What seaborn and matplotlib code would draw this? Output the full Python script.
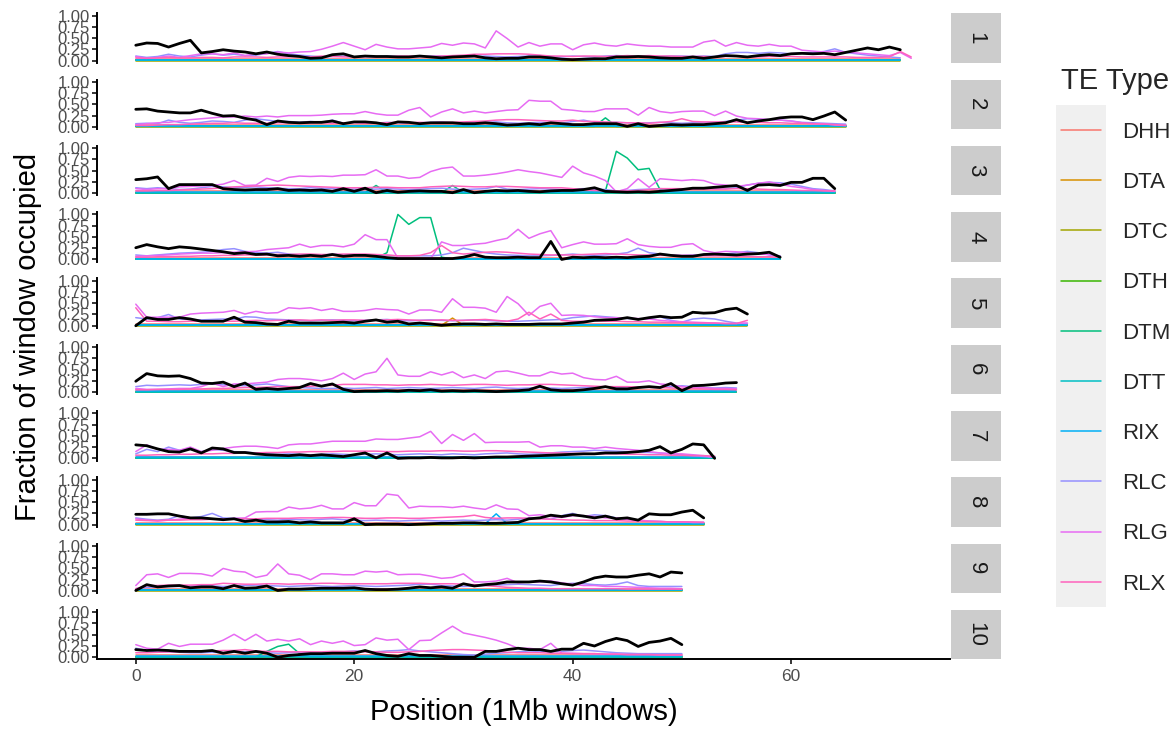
import matplotlib
matplotlib.use("Agg")
import matplotlib.pyplot as plt
from matplotlib.lines import Line2D
from matplotlib.patches import Rectangle
import pandas as pd
import seaborn as sns

# ---------------- data (percent of 1 Mb window occupied) ----------------
CHROMOSOMES = ["1", "2", "3", "4", "5", "6", "7", "8", "9", "10"]
TE_TYPES = ["DHH", "DTA", "DTC", "DTH", "DTM", "DTT", "RIX", "RLC", "RLG", "RLX"]
TE_COLORS = ["#F8766D", "#D89000", "#A3A500", "#39B600", "#00BF7D",
             "#00BFC4", "#00B0F6", "#9590FF", "#E76BF3", "#FF62BC"]
X_TICKS = [0, 20, 40, 60]
Y_TICKS = [0.0, 0.25, 0.5, 0.75, 1.0]
Y_TICK_LABELS = ["0.00", "0.25", "0.50", "0.75", "1.00"]

# black line (non-TE / gene fraction)
GENE = [
    [34,39,38,30,38,45,17,20,24,21, 19,15,19,14,11,9,5,6,13,15, 8,10,9,9,8,8,10,8,6,8, 9,10,6,4,5,5,8,8,6,3, 2,3,4,4,8,8,9,8,6,5, 5,8,5,8,11,10,8,11,13,11, 15,16,15,16,13,18,23,28,24,30, 24],
    [39,40,35,33,31,31,37,30,24,25, 19,15,5,13,10,9,10,10,13,7, 11,11,9,5,11,10,7,9,9,9, 7,7,9,7,4,5,7,5,9,7, 5,5,7,7,7,1,7,1,3,5, 4,5,5,7,9,16,9,13,16,20, 22,22,16,24,33,15],
    [30,32,36,10,19,19,19,19,10,8, 7,8,8,10,6,7,6,7,4,10, 4,11,1,6,2,4,5,4,4,1, 8,1,4,6,5,6,4,3,5,6, 6,8,12,4,3,2,3,2,4,6, 8,11,11,13,15,17,6,18,19,17, 24,24,33,33,10],
    [26,33,28,24,28,26,23,20,17,13, 15,11,12,8,9,7,9,7,11,7, 9,9,7,4,2,2,2,2,2,2, 5,11,5,4,4,5,4,4,40,0, 5,4,5,4,5,4,6,7,12,9, 7,7,11,12,11,10,12,13,16,5],
    [0,18,14,14,18,15,10,10,10,19, 8,7,4,3,10,6,6,6,7,8, 6,10,13,8,10,4,6,4,1,3, 4,4,3,4,3,3,3,4,4,4, 6,8,12,13,14,18,14,18,21,18, 19,30,28,29,36,39,26],
    [24,41,36,35,36,30,20,19,22,12, 20,6,8,6,8,10,19,13,18,6, 1,2,2,3,2,4,3,5,2,3, 2,3,2,1,2,3,5,13,5,3, 3,5,8,12,7,7,10,12,10,19, 3,14,15,17,20,21],
    [30,28,21,15,14,21,12,23,21,13, 13,10,8,7,6,8,6,8,6,4, 8,12,1,12,0,1,1,2,1,1, 2,1,2,3,3,4,5,6,7,8, 9,10,10,12,12,13,15,18,26,12, 20,32,30,0],
    [23,23,24,24,19,15,15,13,11,13, 7,10,6,6,7,4,6,4,4,4, 13,0,1,1,1,0,1,2,3,3, 4,4,3,3,4,5,13,15,21,18, 22,19,15,19,13,15,10,24,22,22, 28,32,15],
    [1,14,9,11,12,7,9,9,5,12, 6,7,11,1,4,4,5,6,6,6, 7,4,3,3,4,6,9,7,9,6, 16,11,14,16,20,20,20,22,20,16, 13,20,29,33,31,31,35,38,31,42, 40],
    [17,15,16,15,13,13,13,15,9,13, 9,13,9,0,4,6,8,8,9,9, 9,15,8,4,2,8,4,4,2,0, 0,0,13,13,17,20,17,17,13,18, 18,31,25,35,42,37,24,33,36,42, 28],
]

RLG = [
    [9,5,7,10,7,11,15,15,13,17, 11,15,15,19,17,19,20,25,32,40, 32,24,36,30,26,26,28,30,38,34, 39,37,28,66,49,30,40,32,37,37, 24,35,39,34,32,37,34,32,32,30, 30,30,41,45,32,40,34,32,36,32, 32,23,21,19,21,19,17,15,13,11, 18,5],
    [5,7,9,10,13,16,18,20,22,22, 24,22,24,22,25,25,25,26,28,29, 29,34,29,26,26,37,43,22,33,40, 31,35,31,34,37,38,59,57,57,39, 37,34,34,40,40,40,26,43,34,31, 34,35,35,25,35,24,19,18,16,15, 13,9,7,7,4,3],
    [10,8,10,10,14,15,16,17,20,28, 17,18,33,26,35,38,37,38,37,40, 40,41,52,38,38,33,35,48,55,58, 38,38,40,43,47,52,48,45,40,35, 60,45,38,28,3,10,32,13,32,30, 28,30,28,20,18,15,18,22,25,20, 15,12,8,6,4],
    [7,8,9,10,12,13,14,14,15,16, 17,18,22,24,26,34,27,31,31,28, 34,55,44,44,3,2,2,2,39,31, 31,34,36,42,47,67,47,57,64,26, 33,39,34,34,35,46,33,29,27,27, 33,35,20,15,18,17,15,12,11,7],
    [48,19,19,19,19,26,28,29,30,34, 26,32,28,29,40,38,40,34,38,32, 32,34,38,36,35,26,35,35,30,60, 41,41,39,30,65,49,23,43,50,23, 24,23,20,18,18,17,16,15,12,10, 9,8,7,6,5,5,6],
    [8,6,6,7,8,8,12,20,12,18, 18,20,22,28,30,30,28,25,30,42, 28,40,45,75,38,35,35,45,38,45, 32,38,30,45,47,42,36,36,45,40, 42,32,28,27,35,22,22,25,18,16, 12,10,10,8,8,7],
    [15,30,20,20,18,25,15,18,22,25, 27,27,25,22,30,32,32,35,38,38, 38,38,43,42,42,45,48,60,33,53, 40,55,35,36,36,36,37,25,28,28, 25,25,22,25,22,20,18,15,12,10, 10,8,6,2],
    [13,10,8,10,12,15,13,12,12,14, 15,28,29,29,39,35,37,43,35,35, 49,42,42,68,65,37,41,40,40,38, 41,37,34,44,35,34,20,22,18,16, 20,20,18,15,15,12,10,8,7,6, 6,5,5],
    [12,36,38,30,39,39,38,33,50,44, 42,30,35,60,38,35,25,38,38,36, 36,44,42,44,36,37,37,33,28,30, 38,20,20,22,28,18,20,20,22,18, 15,12,12,10,10,9,8,7,6,6, 5],
    [28,20,18,31,24,29,29,29,38,51, 37,51,36,40,36,41,28,36,31,36, 26,28,43,38,40,17,37,38,54,69, 54,49,44,38,30,20,20,17,31,9, 9,8,8,7,7,6,6,6,5,5, 5],
]

RLC = [
    [10,7,9,14,10,8,12,15,12,14, 11,12,16,20,15,12,10,8,9,10, 8,9,8,10,9,8,9,10,10,9, 8,9,10,9,8,9,10,11,9,8, 10,9,8,10,11,10,9,8,9,10, 10,9,10,9,15,18,18,16,18,17, 15,17,18,20,26,18,15,12,10,8, 6],
    [7,8,7,15,10,8,10,13,12,10, 15,18,15,12,12,10,12,10,15,8, 10,9,8,10,9,8,9,10,11,9, 8,9,10,11,9,8,9,10,9,8, 12,15,10,9,10,9,8,9,10,9, 8,9,10,9,12,15,18,17,16,15, 13,10,9,8,7,6],
    [12,10,12,10,8,9,12,15,14,12, 13,14,12,11,10,10,12,11,10,9, 9,8,9,10,9,8,9,10,11,9, 8,9,10,15,9,8,9,10,9,8, 9,10,9,8,5,6,8,9,10,9, 8,9,10,9,10,12,18,22,24,23, 20,15,10,8,5],
    [10,8,10,12,14,15,16,18,22,24, 18,15,14,16,12,10,10,9,12,10, 9,8,10,9,8,8,8,8,10,15, 25,20,15,12,10,9,8,8,9,10, 12,10,9,10,12,15,25,15,12,10, 9,10,10,9,12,15,18,15,10,8],
    [18,15,18,25,15,14,13,14,15,14, 20,19,15,14,13,12,11,12,13,12, 11,12,13,14,12,11,12,13,12,11, 12,13,12,11,10,10,11,12,13,14, 18,20,22,20,18,16,15,16,20,12, 8,15,17,15,10,6,5],
    [12,15,14,15,16,15,17,18,16,15, 14,16,18,15,12,10,9,8,8,9, 8,9,10,8,9,10,9,8,9,10, 9,8,10,11,9,8,9,10,9,8, 9,10,11,12,10,9,10,11,10,12, 14,12,10,9,10,9],
    [10,20,15,25,18,20,15,20,18,15, 14,12,10,9,10,9,8,9,10,9, 8,9,10,9,8,9,10,9,8,10, 9,8,10,11,12,10,9,10,12,14, 15,16,18,17,16,15,14,13,12,10, 8,6,4,2],
    [15,12,10,12,20,15,18,25,15,14, 13,12,11,10,12,11,10,12,13,11, 10,9,10,9,8,9,10,9,8,9, 10,9,10,11,10,12,15,14,12,20, 25,18,22,20,15,12,10,8,7,6, 6,5,5],
    [5,8,9,10,10,11,12,11,10,11, 12,13,12,11,10,11,12,11,10,11, 12,11,10,11,12,13,15,15,12,11, 10,11,12,13,14,15,14,13,12,15, 17,16,14,13,15,20,12,10,10,10, 10],
    [20,15,12,12,11,10,10,11,10,11, 12,11,10,9,10,11,10,9,10,12, 14,13,12,14,15,17,14,12,10,8, 6,5,7,9,10,12,14,13,12,13, 15,16,14,12,10,9,8,8,8,8, 8],
]

RLX = [
    [6,5,6,7,6,6,7,7,6,8, 8,8,7,8,8,9,8,10,9,8, 8,9,9,8,10,10,9,9,10,11, 12,14,14,15,15,15,14,12,10,10, 9,10,10,9,10,11,10,11,10,10, 9,9,9,8,9,10,8,8,9,9, 9,8,8,8,8,8,7,7,7,8, 20,8],
    [3,3,4,5,5,6,7,8,8,9, 8,8,8,9,9,8,9,9,8,9, 9,8,9,9,10,9,10,9,10,10, 11,12,13,15,16,16,15,14,13,13, 15,12,12,11,10,9,9,8,10,12, 18,12,11,11,11,11,10,10,9,9, 8,8,7,6,5,3],
    [5,5,6,6,7,8,9,10,12,14, 15,16,17,18,17,16,15,14,13,12, 12,12,13,13,12,12,12,14,15,16, 15,14,14,15,15,14,13,12,12,12, 10,8,6,5,5,5,6,8,10,10, 10,9,9,9,9,10,10,9,8,8, 7,6,6,5,5],
    [5,5,6,6,7,7,8,8,9,9, 10,10,10,11,11,12,12,11,11,12, 12,12,11,10,8,8,9,15,31,15, 12,14,16,17,16,14,12,11,10,10, 10,11,12,13,12,11,10,10,9,9, 9,9,8,8,8,7,7,6,6,5],
    [40,10,10,9,9,10,10,11,10,10, 11,12,11,12,12,13,12,13,12,13, 13,12,12,13,14,13,12,12,13,12, 12,13,14,12,10,15,30,15,26,12, 10,10,11,10,10,9,9,8,8,7, 7,6,6,6,5,5,12],
    [5,5,6,6,6,7,7,8,8,9, 10,10,11,12,12,12,13,14,15,17, 17,17,16,16,15,16,16,17,16,15, 16,17,17,16,15,16,16,17,17,16, 15,14,13,12,12,12,11,10,10,9, 8,8,7,6,6,5],
    [7,7,8,8,9,9,10,10,11,11, 12,12,13,13,14,14,15,15,15,16, 16,16,16,15,15,16,16,16,17,17, 16,16,17,17,16,15,14,13,12,12, 11,11,10,10,10,9,9,8,8,7, 7,6,6,5],
    [10,9,9,10,10,11,11,12,12,12, 13,13,14,14,14,15,15,15,16,16, 15,14,14,15,15,14,14,15,16,17, 18,21,16,14,15,15,14,13,12,11, 10,10,9,9,9,8,8,7,7,6, 6,6,5],
    [5,12,12,13,13,13,14,14,17,16, 15,15,16,16,15,16,16,17,17,16, 16,16,16,16,17,17,17,16,16,16, 15,14,12,10,8,7,6,6,5,5, 5,5,5,5,5,4,4,4,4,4, 4],
    [10,10,11,12,12,12,13,14,15,15, 17,14,13,13,12,12,12,12,13,13, 13,12,12,11,11,12,13,15,16,17, 17,16,15,13,11,10,10,10,9,9, 8,8,8,7,7,6,6,6,5,5, 5],
]

DTM = [
    [1,1,1,1,1,1,1,1,1,1, 1,1,1,1,1,1,1,1,1,1, 1,1,1,1,1,1,1,1,1,1, 1,1,1,1,1,1,1,1,1,1, 1,1,1,1,1,1,1,1,1,1, 1,1,1,1,1,1,1,1,1,1, 1,1,1,1,1,1,1,1,1,1, 1],
    [1,1,1,1,1,1,1,1,1,1, 1,1,1,1,1,1,1,1,1,1, 1,1,1,1,1,1,1,1,1,1, 1,1,1,1,1,1,1,1,1,1, 1,1,1,20,1,1,1,1,1,1, 1,1,1,1,1,1,1,1,1,1, 1,1,1,1,1,1],
    [1,1,1,1,1,1,1,1,1,1, 1,1,1,1,1,1,1,1,1,1, 1,1,17,1,1,1,1,1,1,17, 1,1,1,1,1,1,1,1,1,1, 1,1,1,5,93,78,52,55,8,1, 1,1,1,1,1,1,1,1,1,1, 1,1,1,1,1],
    [1,1,1,1,1,1,1,1,1,1, 1,1,1,1,1,1,1,1,1,1, 1,1,3,15,100,78,93,93,5,1, 1,1,1,1,1,1,1,1,1,1, 1,1,1,1,1,1,1,1,1,1, 1,1,1,1,1,1,1,1,1,1],
    [1,1,1,1,1,1,1,1,1,1, 1,1,1,1,1,1,1,1,1,1, 1,1,1,1,1,1,1,1,1,1, 1,1,1,1,1,1,1,1,1,1, 1,1,1,1,1,1,1,1,1,1, 1,1,1,1,1,1,1],
    [1,1,1,1,1,1,1,1,1,1, 1,1,1,1,1,1,1,1,1,1, 1,1,1,1,1,1,1,1,1,1, 1,1,1,1,1,1,1,1,1,1, 1,1,1,1,1,1,1,1,1,1, 1,1,1,1,1,1],
    [1,1,1,1,1,1,1,1,1,1, 1,1,1,1,1,1,1,1,1,1, 1,1,1,1,1,1,1,1,1,1, 1,1,1,1,1,1,1,1,1,1, 1,1,1,1,1,1,1,1,1,1, 1,1,1,1],
    [1,1,1,1,1,1,1,1,1,1, 1,1,1,1,1,1,1,1,1,1, 1,1,1,1,1,1,1,1,1,1, 1,1,1,1,1,1,1,1,1,1, 1,1,1,1,1,1,1,1,1,1, 1,1,1],
    [1,1,1,1,1,1,1,1,1,1, 1,1,1,1,1,1,1,1,1,1, 1,1,1,1,1,1,1,1,1,1, 1,1,1,1,1,1,1,1,1,1, 1,1,1,1,1,1,1,1,1,1, 1],
    [1,1,1,1,1,1,1,1,1,1, 1,1,13,24,29,8,1,1,1,1, 1,1,1,1,1,1,1,1,1,1, 1,1,1,1,1,1,1,1,1,1, 1,1,1,1,1,1,1,1,1,1, 1],
]

DHH = [
    [4,4,4,4,4,4,4,4,4,4, 4,4,4,4,4,4,4,4,4,4, 4,4,4,4,4,4,4,4,4,4, 4,4,4,4,4,4,4,4,4,4, 4,4,4,4,4,4,4,4,4,4, 4,4,4,4,4,4,4,4,4,4, 4,4,4,4,4,4,4,4,4,4, 4],
    [4,4,4,4,4,4,4,4,4,4, 4,4,4,4,4,4,4,4,4,4, 4,4,4,4,4,4,4,4,4,4, 4,4,4,4,4,4,4,4,4,4, 4,4,4,4,4,4,4,4,4,4, 4,4,4,4,4,4,4,4,4,4, 4,4,4,4,4,4],
    [4,4,4,4,4,4,4,4,4,4, 4,4,4,4,4,4,4,4,4,4, 4,4,4,4,4,4,4,4,4,4, 4,4,4,4,4,4,4,4,4,4, 4,4,4,4,4,4,4,4,4,4, 4,4,4,4,4,4,4,4,4,4, 4,4,4,4,4],
    [4,4,4,4,4,4,4,4,4,4, 4,4,4,4,4,4,4,4,4,4, 4,4,4,4,4,4,4,4,4,4, 4,4,4,4,4,4,4,4,4,4, 4,4,4,4,4,4,4,4,4,4, 4,4,4,4,4,4,4,4,4,4],
    [4,4,4,4,4,4,4,4,4,4, 4,4,4,4,4,4,4,4,4,4, 4,4,4,4,4,4,4,4,4,4, 4,4,4,4,4,4,4,4,4,4, 4,4,4,4,4,4,4,4,4,4, 4,4,4,4,4,4,4],
    [4,4,4,4,4,4,4,4,4,4, 4,4,4,4,4,4,4,4,4,4, 4,4,4,4,4,4,4,4,4,4, 4,4,4,4,4,4,4,4,4,4, 4,4,4,4,4,4,4,4,4,4, 4,4,4,4,4,4],
    [4,4,4,4,4,4,4,4,4,4, 4,4,4,4,4,4,4,4,4,4, 4,4,4,4,4,4,4,4,4,4, 4,4,4,4,4,4,4,4,4,4, 4,4,4,4,4,4,4,4,4,4, 4,4,4,4],
    [4,4,4,4,4,4,4,4,4,4, 4,4,4,4,4,4,4,4,4,4, 4,4,4,4,4,4,4,4,4,4, 4,4,4,4,4,4,4,4,4,4, 4,4,4,4,4,4,4,4,4,4, 4,4,4],
    [4,4,4,4,4,4,4,4,4,4, 4,4,4,4,4,4,4,4,4,4, 4,4,4,4,4,4,4,4,4,4, 4,4,4,4,4,4,4,4,4,4, 4,4,4,4,4,4,4,4,4,4, 4],
    [4,4,4,4,4,4,4,4,4,4, 4,4,4,4,4,4,4,4,4,4, 4,4,4,4,4,4,4,4,4,4, 4,4,4,4,4,4,4,4,4,4, 4,4,4,4,4,4,4,4,4,4, 4],
]

DTA = [
    [1,1,1,1,1,1,1,1,1,1, 1,1,1,1,1,1,1,1,1,1, 1,1,1,1,1,1,1,1,1,1, 1,1,1,1,1,1,1,1,1,1, 1,1,1,1,1,1,1,1,1,1, 1,1,1,1,1,1,1,1,1,1, 1,1,1,1,1,1,1,1,1,1, 1],
    [1,1,1,1,1,1,1,1,1,1, 1,1,1,1,1,1,1,1,1,1, 1,1,1,1,1,1,1,1,1,1, 1,1,1,1,1,1,1,1,1,1, 1,1,1,1,1,1,1,1,1,1, 1,1,1,1,1,1,1,1,1,1, 1,1,1,1,1,1],
    [1,1,1,1,1,1,1,1,1,1, 1,1,1,1,1,1,1,1,1,1, 1,1,1,1,1,1,1,1,1,1, 1,1,1,1,1,1,1,1,1,1, 1,1,1,1,1,1,1,1,1,1, 1,1,1,1,1,1,1,1,1,1, 1,1,1,1,1],
    [1,1,1,1,1,1,1,1,1,1, 1,1,1,1,1,1,1,1,1,1, 1,1,1,1,1,1,1,1,1,1, 1,1,1,1,1,1,1,1,1,1, 1,1,1,1,1,1,1,1,1,1, 1,1,1,1,1,1,1,1,1,1],
    [1,1,1,1,1,1,1,1,1,1, 1,1,1,1,1,1,1,1,1,1, 1,1,1,1,1,1,1,1,1,17, 1,1,1,1,1,1,1,1,1,1, 1,1,1,1,1,1,1,1,1,1, 1,1,1,1,1,1,1],
    [1,1,1,1,1,1,1,1,1,1, 1,1,1,1,1,1,1,1,1,1, 1,1,1,1,1,1,1,1,1,1, 1,1,1,1,1,1,1,1,1,1, 1,1,1,1,1,1,1,1,1,1, 1,1,1,1,1,1],
    [1,1,1,1,1,1,1,1,1,1, 1,1,1,1,1,1,1,1,1,1, 1,1,1,1,1,1,1,1,1,1, 1,1,1,1,1,1,1,1,1,1, 1,1,1,1,1,1,1,1,1,1, 1,1,1,1],
    [1,1,1,1,1,1,1,1,1,1, 1,1,1,1,1,1,1,1,1,1, 12,1,1,1,1,1,1,1,1,1, 1,1,1,1,1,1,1,1,1,1, 1,1,1,1,1,1,1,1,1,1, 1,1,1],
    [1,1,1,1,1,1,1,1,1,1, 1,1,1,1,1,1,1,1,1,1, 1,1,1,1,1,1,1,1,1,1, 1,1,1,1,1,1,1,1,1,1, 1,1,1,1,1,1,1,1,1,1, 1],
    [1,1,1,1,1,1,1,1,1,1, 1,1,1,1,1,1,1,1,1,1, 1,1,1,1,1,1,1,1,1,1, 1,1,1,1,1,1,1,1,1,1, 1,1,1,1,1,1,1,1,1,1, 1],
]

DTC = [
    [0,0,0,0,0,0,0,0,0,0, 0,0,0,0,0,0,0,0,0,0, 0,0,0,0,0,0,0,0,0,0, 0,0,0,0,0,0,0,0,0,0, 0,0,0,0,0,0,0,0,0,0, 0,0,0,0,0,0,0,0,0,0, 0,0,0,0,0,0,0,0,0,0, 0],
    [0,0,0,0,0,0,0,0,0,0, 0,0,0,0,0,0,0,0,0,0, 0,0,0,0,0,0,0,0,0,0, 0,0,0,0,0,0,0,0,0,0, 0,0,0,0,0,0,0,0,0,0, 0,0,0,0,0,0,0,0,0,0, 0,0,0,0,0,0],
    [0,0,0,0,0,0,0,0,0,0, 0,0,0,0,0,0,0,0,0,0, 0,0,0,0,0,0,0,0,0,0, 0,0,0,0,0,0,0,0,0,0, 0,0,0,0,0,0,0,0,0,0, 0,0,0,0,0,0,0,0,0,0, 0,0,0,0,0],
    [0,0,0,0,0,0,0,0,0,0, 0,0,0,0,0,0,0,0,0,0, 0,0,0,0,0,0,0,0,0,0, 0,0,0,0,0,0,0,0,0,0, 0,0,0,0,0,0,0,0,0,0, 0,0,0,0,0,0,0,0,0,0],
    [0,0,0,0,0,0,0,0,0,0, 0,0,0,0,0,0,0,0,0,0, 0,0,0,0,0,0,0,0,0,0, 0,0,0,0,0,0,0,0,0,0, 0,0,0,0,0,0,0,0,0,0, 0,0,0,0,0,0,0],
    [0,0,0,0,0,0,0,0,0,0, 0,0,0,0,0,0,0,0,0,0, 0,0,0,0,0,0,0,0,0,0, 0,0,0,0,0,0,0,0,0,0, 0,0,0,0,0,0,0,0,0,0, 0,0,0,0,0,0],
    [0,0,0,0,0,0,0,0,0,0, 0,0,0,0,0,0,0,0,0,0, 0,0,0,0,0,0,0,0,0,0, 0,0,0,0,0,0,0,0,0,0, 0,0,0,0,0,0,0,0,0,0, 0,0,0,0],
    [0,0,0,0,0,0,0,0,0,0, 0,0,0,0,0,0,0,0,0,0, 0,0,0,0,0,0,0,0,0,0, 0,0,0,0,0,0,0,0,0,0, 0,0,0,0,0,0,0,0,0,0, 0,0,0],
    [0,0,0,0,0,0,0,0,0,0, 0,0,0,0,0,0,0,0,0,0, 0,0,0,0,0,0,0,0,0,0, 0,0,0,0,0,0,0,0,0,0, 0,0,0,0,0,0,0,0,0,0, 0],
    [0,0,0,0,0,0,0,0,0,0, 0,0,0,0,0,0,0,0,0,0, 0,0,0,0,0,0,0,0,0,0, 0,0,0,0,0,0,0,0,0,0, 0,0,0,0,0,0,0,0,0,0, 0],
]

DTH = [
    [1,1,1,1,1,1,1,1,1,1, 1,1,1,1,1,1,1,1,1,1, 1,1,1,1,1,1,1,1,1,1, 1,1,1,1,1,1,1,1,1,1, 1,1,1,1,1,1,1,1,1,1, 1,1,1,1,1,1,1,1,1,1, 1,1,1,1,1,1,1,1,1,1, 1],
    [1,1,1,1,1,1,1,1,1,1, 1,1,1,1,1,1,1,1,1,1, 1,1,1,1,1,1,1,1,1,1, 1,1,1,1,1,1,1,1,1,1, 1,1,1,1,1,1,1,1,1,1, 1,1,1,1,1,1,1,1,1,1, 1,1,1,1,1,1],
    [1,1,1,1,1,1,1,1,1,1, 1,1,1,1,1,1,1,1,1,1, 1,1,1,1,1,1,1,1,1,1, 1,1,1,1,1,1,1,1,1,1, 1,1,1,1,1,1,1,1,1,1, 1,1,1,1,1,1,1,1,1,1, 1,1,1,1,1],
    [1,1,1,1,1,1,1,1,1,1, 1,1,1,1,1,1,1,1,1,1, 1,1,1,1,1,1,1,1,1,1, 1,1,1,1,1,1,1,1,1,1, 1,1,1,1,1,1,1,1,1,1, 1,1,1,1,1,1,1,1,1,1],
    [1,1,1,1,1,1,1,1,1,1, 1,1,1,1,1,1,1,1,1,1, 1,1,1,1,1,1,1,1,1,1, 1,1,1,1,1,1,1,1,1,1, 1,1,1,1,1,1,1,1,1,1, 1,1,1,1,1,1,1],
    [1,1,1,1,1,1,1,1,1,1, 1,1,1,1,1,1,1,1,1,1, 1,1,1,1,1,1,1,1,1,1, 1,1,1,1,1,1,1,1,1,1, 1,1,1,1,1,1,1,1,1,1, 1,1,1,1,1,1],
    [1,1,1,1,1,1,1,1,1,1, 1,1,1,1,1,1,1,1,1,1, 1,1,1,1,1,1,1,1,1,1, 1,1,1,1,1,1,1,1,1,1, 1,1,1,1,1,1,1,1,1,1, 1,1,1,1],
    [1,1,1,1,1,1,1,1,1,1, 1,1,1,1,1,1,1,1,1,1, 1,1,1,1,1,1,1,1,1,1, 1,1,1,1,1,1,1,1,1,1, 1,1,1,1,1,1,1,1,1,1, 1,1,1],
    [1,1,1,1,1,1,1,1,1,1, 1,1,1,1,1,1,1,1,1,1, 1,1,1,1,1,1,1,1,1,1, 1,1,1,1,1,1,1,1,1,1, 1,1,1,1,1,1,1,1,1,1, 1],
    [1,1,1,1,1,1,1,1,1,1, 1,1,1,1,1,1,1,1,1,1, 1,1,1,1,1,1,1,1,1,1, 1,1,1,1,1,1,1,1,1,1, 1,1,1,1,1,1,1,1,1,1, 1],
]

DTT = [
    [1,1,1,1,1,1,1,1,1,1, 1,1,1,1,1,1,1,1,1,1, 1,1,1,1,1,1,1,1,1,1, 1,1,1,1,1,1,1,1,1,1, 1,1,1,1,1,1,1,1,1,1, 1,1,1,1,1,1,1,1,1,1, 1,1,1,1,1,1,1,1,1,1, 1],
    [1,1,1,1,1,1,1,1,1,1, 1,1,1,1,1,1,1,1,1,1, 1,1,1,1,1,1,1,1,1,1, 1,1,1,1,1,1,1,1,1,1, 1,1,1,1,1,1,1,1,1,1, 1,1,1,1,1,1,1,1,1,1, 1,1,1,1,1,1],
    [1,1,1,1,1,1,1,1,1,1, 1,1,1,1,1,1,1,1,1,1, 1,1,1,1,1,1,1,1,1,1, 1,1,1,1,1,1,1,1,1,1, 1,1,1,1,1,1,1,1,1,1, 1,1,1,1,1,1,1,1,1,1, 1,1,1,1,1],
    [1,1,1,1,1,1,1,1,1,1, 1,1,1,1,1,1,1,1,1,1, 1,1,1,1,1,1,1,1,1,1, 1,1,1,1,1,1,1,1,1,1, 1,1,1,1,1,1,1,1,1,1, 1,1,1,1,1,1,1,1,1,1],
    [1,1,1,1,1,1,1,1,1,1, 1,1,1,1,1,1,1,1,1,1, 1,1,1,1,1,1,1,1,1,1, 1,1,1,1,1,1,1,1,1,1, 1,1,1,1,1,1,1,1,1,1, 1,1,1,1,1,1,1],
    [1,1,1,1,1,1,1,1,1,1, 1,1,1,1,1,1,1,1,1,1, 1,1,1,1,1,1,1,1,1,1, 1,1,1,1,1,1,1,1,1,1, 1,1,1,1,1,1,1,1,1,1, 1,1,1,1,1,1],
    [1,1,1,1,1,1,1,1,1,1, 1,1,1,1,1,1,1,1,1,1, 1,1,1,1,1,1,1,1,1,1, 1,1,1,1,1,1,1,1,1,1, 1,1,1,1,1,1,1,1,1,1, 1,1,1,1],
    [1,1,1,1,1,1,1,1,1,1, 1,1,1,1,1,1,1,1,1,1, 1,1,1,1,1,1,1,1,1,1, 1,1,1,1,1,1,1,1,1,1, 1,1,1,1,1,1,1,1,1,1, 1,1,1],
    [1,1,1,1,1,1,1,1,1,1, 1,1,1,1,1,1,1,1,1,1, 1,1,1,1,1,1,1,1,1,1, 1,1,1,1,1,1,1,1,1,1, 1,1,1,1,1,1,1,1,1,1, 1],
    [1,1,1,1,1,1,1,1,1,1, 1,1,1,1,1,1,1,1,1,1, 1,1,1,1,1,1,1,1,1,1, 1,1,1,1,1,1,1,1,1,1, 1,1,1,1,1,1,1,1,1,1, 1],
]

RIX = [
    [2,2,2,2,2,2,2,2,2,2, 2,2,2,2,2,2,2,2,2,2, 2,2,2,2,2,2,2,2,2,2, 2,2,2,2,2,2,2,2,2,2, 2,2,2,2,2,2,2,2,2,2, 2,2,2,2,2,2,2,2,2,2, 2,2,2,2,2,2,2,2,2,2, 2],
    [2,2,2,2,2,2,2,2,2,2, 2,2,2,2,2,2,2,2,2,2, 2,2,2,2,2,2,2,2,2,2, 2,2,2,2,2,2,2,2,2,2, 2,2,2,2,2,2,2,2,2,2, 2,2,2,2,2,2,2,2,2,2, 2,2,2,2,2,2],
    [2,2,2,2,2,2,2,2,2,2, 2,2,2,2,2,2,2,2,2,2, 2,2,2,2,2,2,2,2,2,2, 2,2,2,2,2,2,2,2,2,2, 2,2,2,2,2,2,2,2,2,2, 2,2,2,2,2,2,2,2,2,2, 2,2,2,2,2],
    [2,2,2,2,2,2,2,2,2,2, 2,2,2,2,2,2,2,2,2,2, 2,2,2,2,2,2,2,2,2,2, 2,2,2,2,2,2,2,2,2,2, 2,2,2,2,2,2,2,2,2,2, 2,2,2,2,2,2,2,2,2,2],
    [2,2,2,2,2,2,2,2,2,2, 2,2,2,2,2,2,2,2,2,2, 2,2,2,2,2,2,2,2,2,2, 2,2,2,2,2,2,2,2,2,2, 2,2,2,2,2,2,2,2,2,2, 2,2,2,2,2,2,2],
    [2,2,2,2,2,2,2,2,2,2, 2,2,2,2,2,2,2,2,2,2, 2,2,2,2,2,2,2,2,2,2, 2,2,2,2,2,2,2,2,2,2, 2,2,2,2,2,2,2,2,2,2, 2,2,2,2,2,2],
    [2,2,2,2,2,2,2,2,2,2, 2,2,2,2,2,2,2,2,2,2, 2,2,2,2,2,2,2,2,2,2, 2,2,2,2,2,2,2,2,2,2, 2,2,2,2,2,2,2,2,2,2, 2,2,2,2],
    [2,2,2,2,2,2,2,2,2,2, 2,2,2,2,2,2,2,2,2,2, 2,2,2,2,2,2,2,2,2,2, 2,2,2,24,2,2,2,2,2,2, 2,2,2,2,2,2,2,2,2,2, 2,2,2],
    [2,2,2,2,2,2,2,2,2,2, 2,2,2,2,2,2,2,2,2,2, 2,2,2,2,2,2,2,2,2,2, 2,2,2,2,2,2,2,2,2,2, 2,2,2,2,2,2,2,2,2,2, 2],
    [2,2,2,2,2,2,2,2,2,2, 2,2,2,2,2,2,2,2,2,2, 2,2,2,2,2,2,2,2,2,2, 2,2,2,2,2,2,2,2,2,2, 2,2,2,2,2,2,2,2,2,2, 2],
]

SERIES = {"DHH": DHH, "DTA": DTA, "DTC": DTC, "DTH": DTH, "DTM": DTM,
          "DTT": DTT, "RIX": RIX, "RLC": RLC, "RLG": RLG, "RLX": RLX}

# ---------------- long tables ----------------
rows = []
for te in TE_TYPES:
    for ci, vals in enumerate(SERIES[te]):
        for pos, v in enumerate(vals):
            rows.append((CHROMOSOMES[ci], te, pos, v / 100.0))
df = pd.DataFrame(rows, columns=["chrom", "te", "pos", "frac"])

grows = []
for ci, vals in enumerate(GENE):
    for pos, v in enumerate(vals):
        grows.append((CHROMOSOMES[ci], pos, v / 100.0))
gdf = pd.DataFrame(grows, columns=["chrom", "pos", "frac"])

# ---------------- figure ----------------
sns.set_theme(style="white")
plt.rcParams["font.family"] = ["Liberation Sans", "DejaVu Sans"]

W, H = 1176, 730
fig = plt.figure(figsize=(W / 100, H / 100), dpi=100)
fig.patch.set_facecolor("white")

PX_LEFT, PX_RIGHT = 97, 950
TOP0, STEP, PH = 13.3, 66.3, 49.5
STRIP_W = 50

for i, chrom in enumerate(CHROMOSOMES):
    top = TOP0 + STEP * i
    ax = fig.add_axes([PX_LEFT / W, 1 - (top + PH) / H, (PX_RIGHT - PX_LEFT) / W, PH / H])
    ax.set_facecolor("white")
    sub = df[df["chrom"] == chrom]
    sns.lineplot(data=sub, x="pos", y="frac", hue="te", hue_order=TE_TYPES,
                 palette=TE_COLORS, linewidth=1.1, estimator=None, legend=False, ax=ax)
    gsub = gdf[gdf["chrom"] == chrom]
    sns.lineplot(data=gsub, x="pos", y="frac", color="black", linewidth=2.0,
                 estimator=None, legend=False, ax=ax)
    ax.set_xlim(-3.55, 74.55)
    ax.set_ylim(-0.05, 1.05)
    ax.set_xlabel("")
    ax.set_ylabel("")
    ax.grid(False)
    for s in ["top", "right"]:
        ax.spines[s].set_visible(False)
    ax.spines["left"].set_color("black")
    ax.spines["left"].set_linewidth(1.4)
    ax.set_yticks(Y_TICKS)
    ax.set_yticklabels(Y_TICK_LABELS)
    ax.tick_params(axis="y", left=True, length=3.5, width=1.1, color="black",
                   labelsize=12, labelcolor="#4D4D4D", pad=1.5)
    if i < len(CHROMOSOMES) - 1:
        ax.spines["bottom"].set_visible(False)
        ax.tick_params(axis="x", bottom=False, labelbottom=False)
    else:
        ax.spines["bottom"].set_color("black")
        ax.spines["bottom"].set_linewidth(1.4)
        ax.set_xticks(X_TICKS)
        ax.set_xticklabels([str(t) for t in X_TICKS])
        ax.tick_params(axis="x", bottom=True, length=3.5, width=1.1, color="black",
                       labelsize=12.5, labelcolor="#4D4D4D", pad=3)
    # facet strip on the right
    fig.patches.append(Rectangle(((PX_RIGHT + 1) / W, 1 - (top + PH) / H), STRIP_W / W, PH / H,
                                 transform=fig.transFigure, facecolor="#CCCCCC",
                                 edgecolor="none", zorder=1))
    fig.text((PX_RIGHT + 1 + STRIP_W / 2) / W, 1 - (top + PH / 2) / H, chrom,
             rotation=-90, ha="center", va="center", fontsize=16, color="#1A1A1A")

fig.text(28 / W, 1 - 336.5 / H, "Fraction of window occupied", rotation=90,
         ha="center", va="center", fontsize=21, color="black")
fig.text((PX_LEFT + PX_RIGHT) / 2 / W, 1 - 712 / H, "Position (1Mb windows)",
         ha="center", va="center", fontsize=21, color="black")

# ---------------- legend (measured & adjusted to reference geometry) ----------------
handles = [Line2D([0], [0], color=c, linewidth=1.1) for c in TE_COLORS]
LEG_FS = 16
FS_PX = LEG_FS * 100 / 72.0
T_LINE_X0, T_GAP, T_PITCH, T_FIRST_Y, T_TITLE_Y = 1061, 21, 50.2, 130, 80


def make_legend(hp, ls, anchor):
    return fig.legend(handles, TE_TYPES, title="TE Type", loc="upper left",
                      bbox_to_anchor=anchor, frameon=False,
                      fontsize=LEG_FS, title_fontsize=21, handlelength=1.8,
                      handletextpad=hp, labelspacing=ls, borderpad=0,
                      borderaxespad=0, alignment="left")


def measure(lg):
    rr = fig.canvas.get_renderer()
    hs = [h.get_window_extent(rr) for h in lg.legend_handles]
    ts = [t.get_window_extent(rr) for t in lg.get_texts()]
    tt = lg.get_title().get_window_extent(rr)
    return hs, ts, tt


anchor = (1058 / W, 1 - 64 / H)
hp, ls = 0.95, 1.3
leg = make_legend(hp, ls, anchor)
fig.canvas.draw()
hs, ts, tt = measure(leg)
gap = ts[0].x0 - hs[0].x1
pitch = (((hs[0].y0 + hs[0].y1) - (hs[-1].y0 + hs[-1].y1)) / 2) / 9
hp += (T_GAP - gap) / FS_PX
ls += (T_PITCH - pitch) / FS_PX
leg.remove()
leg = make_legend(hp, ls, anchor)
fig.canvas.draw()

# title-to-first-entry distance
hs, ts, tt = measure(leg)
d = (tt.y0 + tt.y1) / 2 - (hs[0].y0 + hs[0].y1) / 2
leg._legend_box.sep = leg._legend_box.sep - (d - (T_FIRST_Y - T_TITLE_Y))
fig.canvas.draw()

# final placement
hs, ts, tt = measure(leg)
dx = T_LINE_X0 - hs[0].x0
dy = (H - T_FIRST_Y) - (hs[0].y0 + hs[0].y1) / 2
leg.set_bbox_to_anchor((anchor[0] + dx / W, anchor[1] + dy / H))
fig.canvas.draw()

hs, ts, tt = measure(leg)
x0 = min(e.x0 for e in hs) - 5
x1 = max(e.x1 for e in hs) + 5
ytop = max((e.y0 + e.y1) / 2 for e in hs) + T_PITCH / 2
ybot = min((e.y0 + e.y1) / 2 for e in hs) - T_PITCH / 2
fig.patches.append(Rectangle((x0 / W, ybot / H), (x1 - x0) / W, (ytop - ybot) / H,
                             transform=fig.transFigure, facecolor="#F0F0F0",
                             edgecolor="none", zorder=0))

fig.savefig("out.png", dpi=100, facecolor="white")
